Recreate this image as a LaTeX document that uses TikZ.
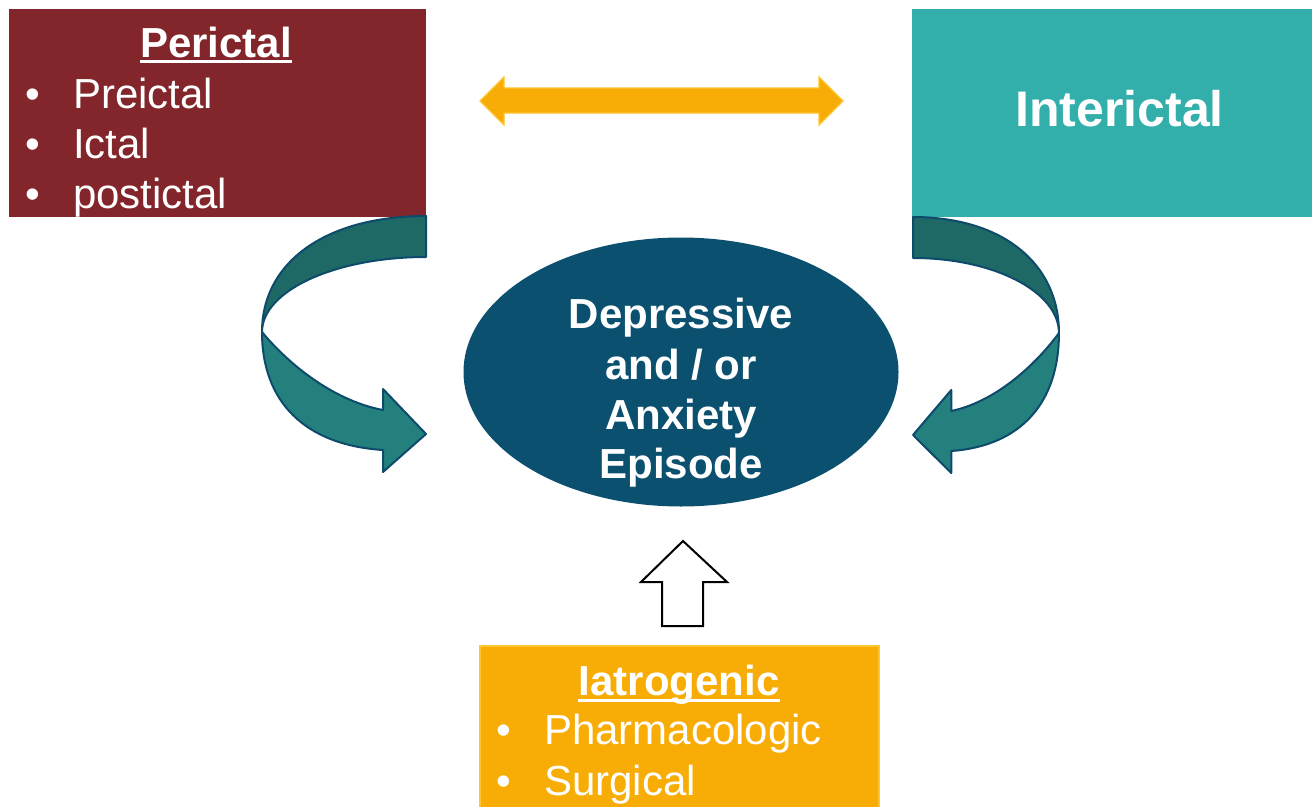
\documentclass[tikz,border=0pt]{standalone}
\usepackage{fontspec}
\setmainfont{Liberation Sans}
\usetikzlibrary{shapes.geometric}

\definecolor{pericol}{HTML}{83262B}
\definecolor{intercol}{HTML}{33AFAB}
\definecolor{iatcol}{HTML}{F8AC06}
\definecolor{iatedge}{HTML}{FFC52E}
\definecolor{epicol}{HTML}{0B506E}
\definecolor{bandback}{HTML}{1E6965}
\definecolor{bandfront}{HTML}{23807D}
\definecolor{bandedge}{HTML}{0D4A6B}

\tikzset{
  panel/.style={anchor=north west, inner sep=0pt, outer sep=0pt},
  txt/.style={text=white, inner sep=0pt, anchor=base west,
              font=\fontsize{42}{50}\selectfont},
  bold/.style={txt, anchor=base, font=\fontsize{42}{50}\selectfont\bfseries},
  bullet/.style={txt, anchor=base},
  uline/.style={white, line width=3pt},
  band back/.style={fill=bandback, draw=bandedge, line width=2pt, line join=round},
  band front/.style={fill=bandfront, draw=bandedge, line width=2pt, line join=round},
}

% one curved block arrow, drawn from the corner where it leaves its box
\newcommand{\twistarrow}{%
  \filldraw[band back]
    (0,0) .. controls (-100,0) and (-164,46) .. (-164,116)
    .. controls (-164,74.6) and (-90.6,41) .. (0,41) -- cycle;
  \filldraw[band front]
    (-164,116) .. controls (-164,186) and (-121,229) .. (-43,234)
    -- (-43,256) -- (0,218) -- (-43,173) -- (-43,194)
    .. controls (-96,184) and (-141,144) .. (-164,116) -- cycle;
}

\begin{document}
\begin{tikzpicture}[x=1pt, y=-1pt]
\useasboundingbox (0,0) rectangle (1312,806);

% boxes
\node[panel, fill=pericol, minimum width=417pt, minimum height=208pt] (peribox) at (9,9) {};
\node[panel, fill=intercol, minimum width=400pt, minimum height=208pt] (interbox) at (912,9) {};
\node[panel, fill=iatcol, draw=iatedge, line width=1.5pt,
      minimum width=399pt, minimum height=175pt] (iatbox) at (480,646) {};

% central episode
\node[ellipse, fill=epicol, minimum width=435pt, minimum height=269pt, inner sep=0pt] (episode) at (681,372) {};
\node[bold] (ep1) at (681,328) {Depressive};
\node[bold] (ep2) at (681,379) {and / or};
\node[bold] (ep3) at (681,429) {Anxiety};
\node[bold] (ep4) at (681,478) {Episode};

% pericital box text
\node[bold] (perititle) at (216,57) {Perictal};
\draw[uline] ([yshift=-4.5pt]perititle.base west) -- ([yshift=-4.5pt]perititle.base east);
\node[bullet] (pb1) at (33,108) {•};
\node[txt] (pi1) at (73,108) {Preictal};
\node[bullet] (pb2) at (33,158) {•};
\node[txt] (pi2) at (73,158) {Ictal};
\node[bullet] (pb3) at (33,208) {•};
\node[txt] (pi3) at (73,208) {postictal};

% interictal box text
\node[txt, anchor=base, font=\fontsize{50}{58}\selectfont\bfseries] (intertitle) at (1119.5,126) {Interictal};

% iatrogenic box text
\node[bold] (iattitle) at (679,695) {Iatrogenic};
\draw[uline] ([yshift=-5pt]iattitle.base west) -- ([yshift=-5pt]iattitle.base east);
\node[bullet] (ib1) at (504,744) {•};
\node[txt] (ii1) at (544,744) {Pharmacologic};
\node[bullet] (ib2) at (504,795) {•};
\node[txt] (ii2) at (544,795) {Surgical};

% double arrow between the two upper boxes
\filldraw[fill=iatcol, draw=iatedge, line width=1.2pt, line join=miter]
  (480,101) -- (504,77) -- (504,88) -- (819,88) -- (819,77) -- (843,101)
  -- (819,125) -- (819,113) -- (504,113) -- (504,125) -- cycle;

% hollow up arrow from the iatrogenic box
\filldraw[fill=white, draw=black, line width=2pt, line join=miter]
  (683,541) -- (727,582) -- (703,582) -- (703,626) -- (662,626)
  -- (662,582) -- (641,582) -- cycle;

% curved arrows into the episode
\begin{scope}[shift={(426,216)}]
  \twistarrow
\end{scope}
\begin{scope}[shift={(913,217)}, xscale=-0.89]
  \twistarrow
\end{scope}

\end{tikzpicture}
\end{document}
